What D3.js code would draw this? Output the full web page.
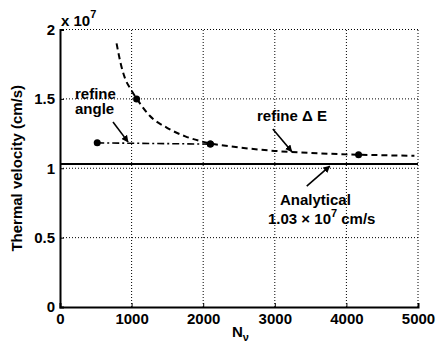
<!DOCTYPE html>
<html>
<head>
<meta charset="utf-8">
<script src="https://cdn.jsdelivr.net/npm/d3@7"></script>
<style>
  body { margin: 0; background: #fff; }
  text { font-family: "Liberation Sans", Arial, sans-serif; font-weight: bold; }
</style>
</head>
<body>
<div id="chart"></div>
<script>
// values in units of 1e7 cm/s
const xTicks = [0, 1000, 2000, 3000, 4000, 5000];
const yTicks = [0, 0.5, 1, 1.5, 2];

// refine delta E: simulated points + dashed fit
const dEPointsN = [1070, 2100, 4170];
const dEPointsV = [1.5, 1.174, 1.097];
const dECurveN = [790, 850, 900, 1000, 1100, 1250, 1500, 1750, 2000, 2500, 3000, 3500, 4000, 4500, 4950];
const dECurveV = [1.90, 1.75, 1.66, 1.56, 1.48, 1.38, 1.29, 1.23, 1.19, 1.15, 1.125, 1.11, 1.10, 1.094, 1.09];

// refine angle
const anglePointsN = [520, 2100];
const anglePointsV = [1.183, 1.174];

const analytical = 1.03;

const width = 438, height = 346;
const margin = { top: 29.5, right: 20, bottom: 39, left: 60 };

const svg = d3.select("#chart").append("svg")
    .attr("width", width)
    .attr("height", height);

const x = d3.scaleLinear().domain([0, 5000]).range([margin.left, width - margin.right]);
const y = d3.scaleLinear().domain([0, 2]).range([height - margin.bottom, margin.top]);

// grid
svg.append("g")
    .selectAll("line")
    .data(xTicks.slice(1))
    .join("line")
    .attr("x1", d => x(d)).attr("x2", d => x(d))
    .attr("y1", y(0)).attr("y2", y(2))
    .attr("stroke", "#000").attr("stroke-width", 1).attr("stroke-dasharray", "1,2");
svg.append("g")
    .selectAll("line")
    .data(yTicks.slice(1))
    .join("line")
    .attr("x1", x(0)).attr("x2", x(5000))
    .attr("y1", d => y(d)).attr("y2", d => y(d))
    .attr("stroke", "#000").attr("stroke-width", 1).attr("stroke-dasharray", "1,2");

// axes
const xAxis = svg.append("g")
    .attr("transform", `translate(0,${y(0)})`)
    .call(d3.axisBottom(x).tickValues(xTicks).tickFormat(d3.format("d")).tickSize(-4).tickPadding(6));
const yAxis = svg.append("g")
    .attr("transform", `translate(${x(0)},0)`)
    .call(d3.axisLeft(y).tickValues(yTicks).tickFormat(d => d).tickSize(-4).tickPadding(5));

[xAxis, yAxis].forEach(a => {
    a.select(".domain").attr("stroke-width", 2);
    a.selectAll("text").attr("font-size", 15).attr("font-family", "Liberation Sans, Arial, sans-serif").attr("font-weight", "bold").attr("fill", "#000");
});

// analytical line
svg.append("line")
    .attr("x1", x(0)).attr("x2", x(5000))
    .attr("y1", y(analytical)).attr("y2", y(analytical))
    .attr("stroke", "#000").attr("stroke-width", 2);

const line = d3.line().x(d => x(d[0])).y(d => y(d[1]));

// refine angle dash-dot
svg.append("path")
    .datum(d3.zip(anglePointsN, anglePointsV))
    .attr("d", line)
    .attr("fill", "none").attr("stroke", "#000").attr("stroke-width", 1.6)
    .attr("stroke-dasharray", "7,3,2,3");

// refine dE dashed
svg.append("path")
    .datum(d3.zip(dECurveN, dECurveV))
    .attr("d", line.curve(d3.curveMonotoneX))
    .attr("fill", "none").attr("stroke", "#000").attr("stroke-width", 2)
    .attr("stroke-dasharray", "6,4");

// markers
svg.append("g")
    .selectAll("circle")
    .data(d3.zip(anglePointsN, anglePointsV).concat(d3.zip(dEPointsN, dEPointsV)))
    .join("circle")
    .attr("cx", d => x(d[0])).attr("cy", d => y(d[1]))
    .attr("r", 3.5).attr("fill", "#000");

// arrows
const defs = svg.append("defs");
defs.append("marker")
    .attr("id", "arrow")
    .attr("viewBox", "0 0 10 10")
    .attr("refX", 9).attr("refY", 5)
    .attr("markerWidth", 7).attr("markerHeight", 7)
    .attr("markerUnits", "userSpaceOnUse")
    .attr("orient", "auto")
    .append("path").attr("d", "M0,0 L10,5 L0,10 z").attr("fill", "#000");

const arrows = [
    [[740, 1.333], [950, 1.19]],
    [[2972, 1.283], [3237, 1.12]],
    [[3446, 0.871], [3767, 1.015]]
];
svg.append("g")
    .selectAll("line")
    .data(arrows)
    .join("line")
    .attr("x1", d => x(d[0][0])).attr("y1", d => y(d[0][1]))
    .attr("x2", d => x(d[1][0])).attr("y2", d => y(d[1][1]))
    .attr("stroke", "#000").attr("stroke-width", 1.6)
    .attr("marker-end", "url(#arrow)");

// annotation text
const note = (tx, ty, s) => svg.append("text").attr("x", tx).attr("y", ty).attr("font-size", 15).text(s);
note(75, 99, "refine");
note(75, 114, "angle");
note(257, 121, "refine \u0394 E");
note(280, 205, "Analytical");
const an = svg.append("text").attr("x", 268).attr("y", 224).attr("font-size", 15);
an.append("tspan").text("1.03 \u00d7 10");
an.append("tspan").attr("dy", -7).attr("font-size", 11).text("7");
an.append("tspan").attr("dy", 7).text(" cm/s");

// exponent
const ex = svg.append("text").attr("x", 61).attr("y", 26).attr("font-size", 15);
ex.append("tspan").text("x 10");
ex.append("tspan").attr("dy", -8).attr("font-size", 11).text("7");

// axis labels
const xl = svg.append("text").attr("x", 232).attr("y", 337).attr("font-size", 15);
xl.append("tspan").text("N");
xl.append("tspan").attr("dy", 4).attr("font-size", 11).text("\u03bd");

svg.append("text")
    .attr("transform", `translate(22,${(y(0) + y(2)) / 2}) rotate(-90)`)
    .attr("text-anchor", "middle")
    .attr("font-size", 15)
    .text("Thermal velocity (cm/s)");
</script>
</body>
</html>
